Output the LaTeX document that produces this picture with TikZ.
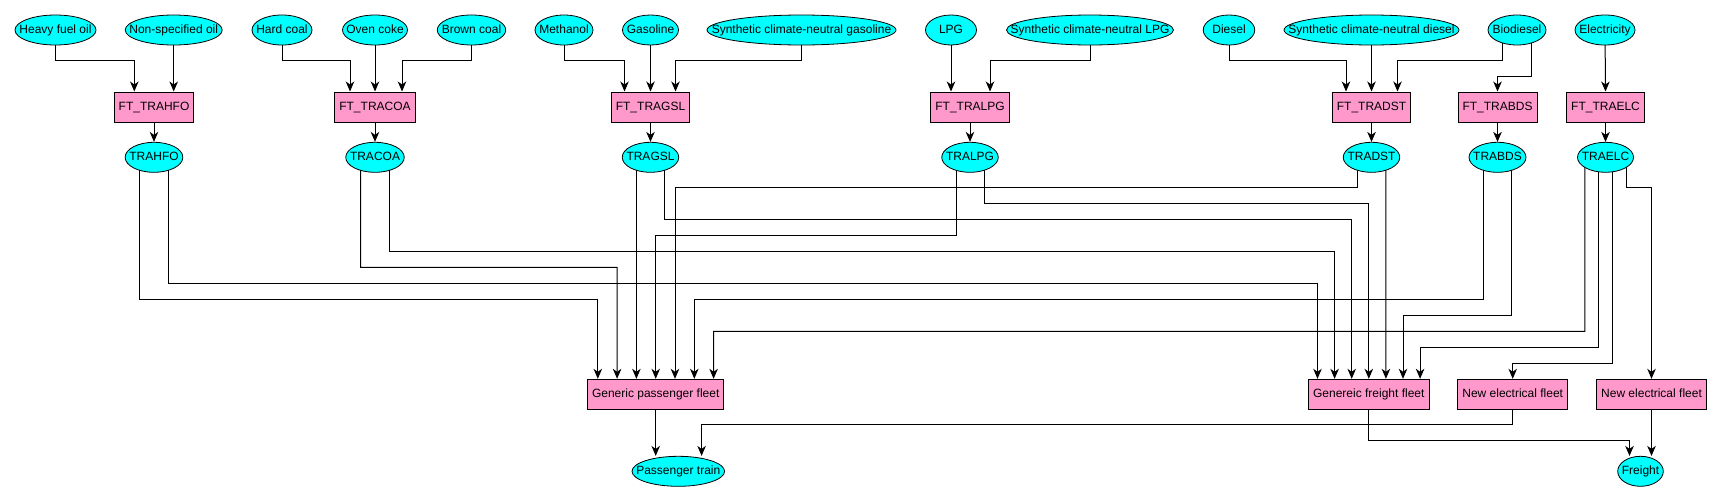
\documentclass[tikz,border=0pt]{standalone}
\usepackage{fontspec}
\setmainfont{Liberation Sans}
\usetikzlibrary{shapes.geometric,arrows.meta,backgrounds}
\definecolor{nodecyan}{HTML}{00FFFF}
\definecolor{nodepink}{HTML}{FF99CC}
\newcommand{\zb}[1]{\makebox[0pt]{#1}}
\begin{document}
\begin{tikzpicture}[x=1pt,y=-1pt,
  font=\fontsize{12}{14}\selectfont,
  ov/.style={ellipse,draw=black,line width=0.8pt,fill=nodecyan,inner sep=0pt,minimum height=30pt,text height=8.6pt,text depth=2.4pt},
  bx/.style={rectangle,draw=black,line width=1pt,fill=nodepink,inner xsep=4.5pt,inner ysep=0pt,minimum height=30pt,text height=8.6pt,text depth=2.4pt},
  arr/.style={draw=black,line width=1pt,-{Stealth[length=10pt,width=8.5pt,inset=3pt]}}]
\useasboundingbox (0,0) rectangle (1721,501);

% top row sources
\node[ov,minimum width=81pt]  (hfo)  at (55.5,30)  {\zb{Heavy fuel oil}};
\node[ov,minimum width=97pt]  (nso)  at (173.7,30) {\zb{Non-specified oil}};
\node[ov,minimum width=60pt]  (hc)   at (282,30)   {\zb{Hard coal}};
\node[ov,minimum width=65pt]  (oc)   at (375,30)   {\zb{Oven coke}};
\node[ov,minimum width=68.5pt](bc)   at (471.5,30) {\zb{Brown coal}};
\node[ov,minimum width=58pt]  (meth) at (564,30)   {\zb{Methanol}};
\node[ov,minimum width=56pt]  (gas)  at (650.5,30) {\zb{Gasoline}};
\node[ov,minimum width=189pt] (sgas) at (801.5,30) {\zb{Synthetic climate-neutral gasoline}};
\node[ov,minimum width=51pt]  (lpg)  at (951,30)   {\zb{LPG}};
\node[ov,minimum width=167pt] (slpg) at (1090,30)  {\zb{Synthetic climate-neutral LPG}};
\node[ov,minimum width=51.5pt](dsl)  at (1229,30)  {\zb{Diesel}};
\node[ov,minimum width=175pt] (sdsl) at (1371.5,30){\zb{Synthetic climate-neutral diesel}};
\node[ov,minimum width=58pt]  (bio)  at (1517,30)  {\zb{Biodiesel}};
\node[ov,minimum width=60pt]  (elec) at (1605,30)  {\zb{Electricity}};

% FT boxes
\node[bx] (fthfo) at (154,107)    {FT\_TRAHFO};
\node[bx] (ftcoa) at (375,107)    {FT\_TRACOA};
\node[bx] (ftgsl) at (650.5,107)  {FT\_TRAGSL};
\node[bx] (ftlpg) at (970,107)    {FT\_TRALPG};
\node[bx] (ftdst) at (1371.5,107) {FT\_TRADST};
\node[bx] (ftbds) at (1497.5,107) {FT\_TRABDS};
\node[bx] (ftelc) at (1605.5,107) {FT\_TRAELC};

% TRA ellipses
\node[ov,minimum width=57.7pt] (trahfo) at (154,157.3)    {\zb{TRAHFO}};
\node[ov,minimum width=58.5pt] (tracoa) at (375,157.3)    {\zb{TRACOA}};
\node[ov,minimum width=56.5pt] (tragsl) at (650.5,157.3)  {\zb{TRAGSL}};
\node[ov,minimum width=56.5pt] (tralpg) at (970,157.3)    {\zb{TRALPG}};
\node[ov,minimum width=56.5pt] (tradst) at (1371.5,157.3) {\zb{TRADST}};
\node[ov,minimum width=57pt]   (trabds) at (1497.5,157.3) {\zb{TRABDS}};
\node[ov,minimum width=56pt]   (traelc) at (1605.5,157.3) {\zb{TRAELC}};

% fleets
\node[bx] (pf)   at (655.7,394.3)  {Generic passenger fleet};
\node[bx] (ff)   at (1368.8,394.3) {Genereic freight fleet};
\node[bx] (nef1) at (1512.7,394.3) {New electrical fleet};
\node[bx] (nef2) at (1651.5,394.3) {New electrical fleet};

% outputs
\node[ov,minimum width=92.6pt] (ptrain)  at (678.3,471.3)  {\zb{Passenger train}};
\node[ov,minimum width=45.6pt] (freight) at (1640.5,471.3) {\zb{Freight}};

\begin{scope}[on background layer]
\fill[white] (0,0) rectangle (1721,501);
% top connectors
\draw[arr] (hfo.center) |- (134.3,60.3) -- ([xshift=-19.7pt]fthfo.north);
\draw[arr] (nso.center) -- ([xshift=19.7pt]fthfo.north);
\draw[arr] (hc.center) |- (350,60.3) -- ([xshift=-25pt]ftcoa.north);
\draw[arr] (oc.center) -- (ftcoa.north);
\draw[arr] (bc.center) |- (402,60.3) -- ([xshift=27pt]ftcoa.north);
\draw[arr] (meth.center) |- (624.5,60.3) -- ([xshift=-26pt]ftgsl.north);
\draw[arr] (gas.center) -- (ftgsl.north);
\draw[arr] (sgas.center) |- (675.5,60.3) -- ([xshift=25pt]ftgsl.north);
\draw[arr] (lpg.center) -- ([xshift=-19pt]ftlpg.north);
\draw[arr] (slpg.center) |- (990,60.3) -- ([xshift=20pt]ftlpg.north);
\draw[arr] (dsl.center) |- (1346,60.3) -- ([xshift=-25.5pt]ftdst.north);
\draw[arr] (sdsl.center) -- (ftdst.north);
\draw[arr] ([xshift=-15pt]bio.center) |- (1397.5,60.3) -- ([xshift=26pt]ftdst.north);
\draw[arr] ([xshift=14.6pt]bio.center) |- (1497.5,76.3) -- (ftbds.north);
\draw[arr] (elec.center) -- (ftelc.north);
% FT to TRA
\draw[arr] (fthfo.center) -- (trahfo.north);
\draw[arr] (ftcoa.center) -- (tracoa.north);
\draw[arr] (ftgsl.center) -- (tragsl.north);
\draw[arr] (ftlpg.center) -- (tralpg.north);
\draw[arr] (ftdst.center) -- (tradst.north);
\draw[arr] (ftbds.center) -- (trabds.north);
\draw[arr] (ftelc.center) -- (traelc.north);
% TRA to fleets
\draw[arr] ([xshift=-14.5pt]trahfo.center) |- (597.8,299.3) -- ([xshift=-57.9pt]pf.north);
\draw[arr] ([xshift=14.5pt]trahfo.center) |- (1317.5,283.3) -- ([xshift=-51.3pt]ff.north);
\draw[arr] ([xshift=-14.5pt]tracoa.center) |- (617.1,267.3) -- ([xshift=-38.6pt]pf.north);
\draw[arr] ([xshift=14.5pt]tracoa.center) |- (1334.6,251.3) -- ([xshift=-34.2pt]ff.north);
\draw[arr] ([xshift=-14.1pt]tragsl.center) -- ([xshift=-19.3pt]pf.north);
\draw[arr] ([xshift=14.1pt]tragsl.center) |- (1351.7,219.3) -- ([xshift=-17.1pt]ff.north);
\draw[arr] ([xshift=-14pt]tralpg.center) |- (655.7,235.3) -- (pf.north);
\draw[arr] ([xshift=14pt]tralpg.center) |- (1368.8,203.3) -- (ff.north);
\draw[arr] ([xshift=-14.5pt]tradst.center) |- (675,187.3) -- ([xshift=19.3pt]pf.north);
\draw[arr] ([xshift=14.4pt]tradst.center) -- ([xshift=17.1pt]ff.north);
\draw[arr] ([xshift=-14pt]trabds.center) |- (694.3,299.3) -- ([xshift=38.6pt]pf.north);
\draw[arr] ([xshift=14pt]trabds.center) |- (1403,315.3) -- ([xshift=34.2pt]ff.north);
\draw[arr] ([xshift=-20.7pt]traelc.center) |- (713.6,331.3) -- ([xshift=57.9pt]pf.north);
\draw[arr] ([xshift=-6.9pt]traelc.center) |- (1420.1,347.3) -- ([xshift=51.3pt]ff.north);
\draw[arr] ([xshift=6.9pt]traelc.center) |- (1512.7,363.3) -- (nef1.north);
\draw[arr] ([xshift=20.7pt]traelc.center) |- (1651.5,187.3) -- (nef2.north);
% fleets to outputs
\draw[arr] (pf.center) -- (pf.center |- ptrain.north);
\draw[arr] (nef1.center) |- (701.6,424.3) -- ([xshift=23.3pt]ptrain.north);
\draw[arr] (ff.center) |- (1629.5,440.5) -- ([xshift=-11pt]freight.north);
\draw[arr] (nef2.center) -- ([xshift=11pt]freight.north);
\end{scope}
\end{tikzpicture}
\end{document}
